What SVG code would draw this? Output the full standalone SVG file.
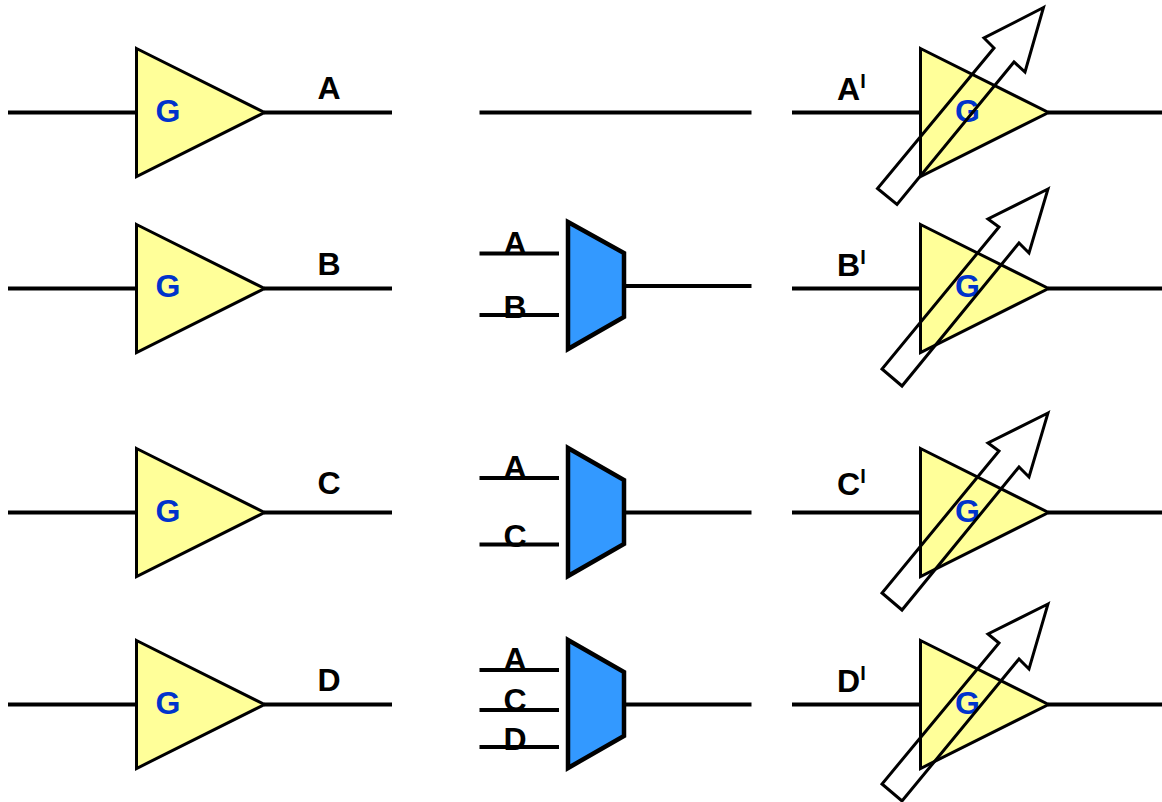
<svg xmlns="http://www.w3.org/2000/svg" width="1162" height="802" viewBox="0 0 1162 802">
<style>
.w{fill:none;stroke:#000;stroke-width:4}
.t{fill:#ffff99;stroke:#000;stroke-width:3}
.m{fill:#3399ff;stroke:#000;stroke-width:4.500}
.a{fill:none;stroke:#000;stroke-width:3}
text{font-family:"Liberation Sans",Arial,sans-serif;font-weight:700;font-size:32px;fill:#000;text-anchor:middle}
.g{fill:#0033cc}
.s{font-size:20px}
</style>
<defs>
<polygon id="tri" class="t" points="0,-64 128,0 0,64"/>
</defs>
<g id="connectors">
<path class="w" d="M8 112.500H136M264 112.500H392M8 288.500H136M264 288.500H392M8 512.500H136M264 512.500H392M8 704.500H136M264 704.500H392"/>
<path class="w" d="M479.500 112.500H751.500"/>
<path class="w" d="M479.500 253.500H559M479.500 315H559M624 286H751.500"/>
<path class="w" d="M479.500 478H559M479.500 544.500H559M624 512.500H751.500"/>
<path class="w" d="M479.500 670H559M479.500 710H559M479.500 747H559M624 704.500H751.500"/>
<path class="w" d="M792 112.500H920M1048 112.500H1162M792 288.500H920M1048 288.500H1162M792 512.500H920M1048 512.500H1162M792 704.500H920M1048 704.500H1162"/>
</g>
<g id="amp-a"><use href="#tri" x="136.500" y="112.500"/><text class="g" x="168" y="121.500">G</text><text x="329" y="99">A</text></g>
<g id="amp-b"><use href="#tri" x="136.500" y="288.500"/><text class="g" x="168" y="297">G</text><text x="329" y="275">B</text></g>
<g id="amp-c"><use href="#tri" x="136.500" y="512.500"/><text class="g" x="168" y="522">G</text><text x="329" y="494">C</text></g>
<g id="amp-d"><use href="#tri" x="136.500" y="704.500"/><text class="g" x="168" y="714">G</text><text x="329" y="691">D</text></g>
<g id="mux-ab"><polygon class="m" points="568,222 624,253 624,317 568,349"/><text x="515" y="254">A</text><text x="515" y="318">B</text></g>
<g id="mux-ac"><polygon class="m" points="568,448 624,480 624,544 568,576"/><text x="515" y="478">A</text><text x="515" y="547">C</text></g>
<g id="mux-acd"><polygon class="m" points="568,640 624,672 624,736 568,768"/><text x="515" y="670">A</text><text x="515" y="711">C</text><text x="515" y="750">D</text></g>
<g id="vga-a"><use href="#tri" x="920.500" y="112.500"/><text class="g" x="967.500" y="121.500">G</text><text x="848.500" y="100">A</text><text class="s" x="863" y="88">I</text>
<polygon class="a" points="1043.500,7.500 984,38 994,48 877.500,188.500 897,204.500 1014,62 1025,72"/></g>
<g id="vga-b"><use href="#tri" x="920.500" y="288.500"/><text class="g" x="967.500" y="297">G</text><text x="848.500" y="276">B</text><text class="s" x="863" y="264">I</text>
<polygon class="a" points="1048,189 988,219 999,227 882,369 902,386 1019,243 1029,253"/></g>
<g id="vga-c"><use href="#tri" x="920.500" y="512.500"/><text class="g" x="967.500" y="522">G</text><text x="848.500" y="495">C</text><text class="s" x="863" y="483">I</text>
<polygon class="a" points="1048,413 988,443 999,451 882,593 902,610 1019,467 1029,477"/></g>
<g id="vga-d"><use href="#tri" x="920.500" y="704.500"/><text class="g" x="967.500" y="714">G</text><text x="848.500" y="692">D</text><text class="s" x="863" y="680">I</text>
<polygon class="a" points="1048,604 988,634 999,643 882,784 902,801 1019,659 1029,669"/></g>
</svg>
